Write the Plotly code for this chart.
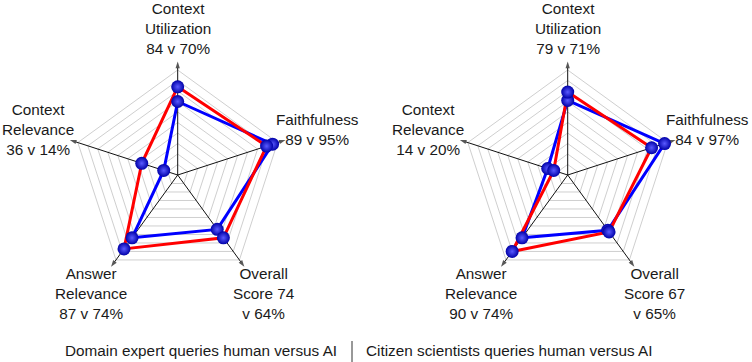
import math
import plotly.graph_objects as go

# ---------------- data ----------------
categories = ["Context Utilization", "Faithfulness", "Overall Score",
              "Answer Relevance", "Context Relevance"]
domain_human = [84, 89, 74, 87, 36]
domain_ai = [70, 95, 64, 74, 14]
citizen_human = [79, 84, 67, 90, 14]
citizen_ai = [71, 97, 65, 74, 20]
label_templates = ["Context<br>Utilization<br>{h} v {a}%",
                   "Faithfulness<br>{h} v {a}%",
                   "Overall<br>Score {h}<br>v {a}%",
                   "Answer<br>Relevance<br>{h} v {a}%",
                   "Context<br>Relevance<br>{h} v {a}%"]
captions = ["Domain expert queries human versus AI",
            "Citizen scientists queries human versus AI"]
grid_values = [10, 20, 30, 40, 50, 60, 70, 80, 90, 100]

# ---------------- geometry / style ----------------
W, H = 752, 362
R_MAX = 110           # radial range
R100_PX = 105         # pixel radius of value 100
R_PX = R100_PX * R_MAX / 100
centers = [(177.7, 175.0), (567.7, 175.0)]
LABEL_R = 147
FONT = "Liberation Sans, Arial, sans-serif"
FS = 15.3
TXT = "#1a1a1a"

fig = go.Figure()
polar_names = ["polar", "polar2"]
datasets = [(domain_human, domain_ai), (citizen_human, citizen_ai)]

for k, (cx, cy) in enumerate(centers):
    sub = polar_names[k]
    dom_x = [(cx - R_PX) / W, (cx + R_PX) / W]
    dom_y = [(H - cy - R_PX) / H, (H - cy + R_PX) / H]
    fig.update_layout({sub: dict(
        domain=dict(x=dom_x, y=dom_y),
        bgcolor="rgba(0,0,0,0)",
        gridshape="linear",
        radialaxis=dict(range=[0, R_MAX], tickvals=grid_values, showticklabels=False,
                        ticks="", showline=False, gridcolor="#cfcfcf", gridwidth=1),
        angularaxis=dict(direction="clockwise", rotation=90, showline=False,
                         showticklabels=False, ticks="", gridcolor="rgba(0,0,0,0)",
                         categoryorder="array", categoryarray=categories),
    )})
    # spokes with arrowheads
    for c in categories:
        fig.add_trace(go.Scatterpolar(
            r=[0, R_MAX - 2], theta=[c, c], subplot=sub, mode="lines+markers",
            line=dict(color="#111111", width=1),
            marker=dict(symbol=["circle", "arrow"], size=[0, 7], color="#111111",
                        angleref="previous", line=dict(width=0)),
            showlegend=False, hoverinfo="skip"))
    human, ai = datasets[k]
    # lines: AI (blue) under, human (red) on top
    for vals, col in ((ai, "#0000ff"), (human, "#ff0000")):
        fig.add_trace(go.Scatterpolar(
            r=vals + vals[:1], theta=categories + categories[:1], subplot=sub,
            mode="lines", line=dict(color=col, width=3),
            showlegend=False, hoverinfo="skip"))
    for vals in (ai, human):
        fig.add_trace(go.Scatterpolar(
            r=vals, theta=categories, subplot=sub, mode="markers",
            marker=dict(size=13, color="#0000a8",
                        gradient=dict(type="radial", color="#5a5aff"),
                        line=dict(width=0)),
            showlegend=False, hoverinfo="skip"))
    # axis labels
    for i, tpl in enumerate(label_templates):
        ang = math.radians(90 - 72 * i)
        lx = cx + LABEL_R * math.cos(ang)
        ly = cy - LABEL_R * math.sin(ang)
        fig.add_annotation(x=lx / W, y=1 - ly / H, xref="paper", yref="paper",
                           text=tpl.format(h=human[i], a=ai[i]), showarrow=False,
                           xanchor="center", yanchor="middle", align="center",
                           borderpad=0, font=dict(family=FONT, size=FS, color=TXT))

# captions
fig.add_annotation(x=201 / W, y=1 - 350 / H, xref="paper", yref="paper", text=captions[0],
                   showarrow=False, xanchor="center", yanchor="middle",
                   font=dict(family=FONT, size=FS, color=TXT))
fig.add_annotation(x=509 / W, y=1 - 350 / H, xref="paper", yref="paper", text=captions[1],
                   showarrow=False, xanchor="center", yanchor="middle",
                   font=dict(family=FONT, size=FS, color=TXT))
fig.add_shape(type="line", xref="paper", yref="paper", x0=352 / W, x1=352 / W,
              y0=0, y1=1 - 341 / H, line=dict(color="#333333", width=1))

fig.update_layout(width=W, height=H, margin=dict(l=0, r=0, t=0, b=0),
                  paper_bgcolor="white", plot_bgcolor="white", showlegend=False)
fig.write_html("out.html", config={"displayModeBar": False},
               post_script="document.body.style.margin='0';document.body.style.overflow='hidden';")
